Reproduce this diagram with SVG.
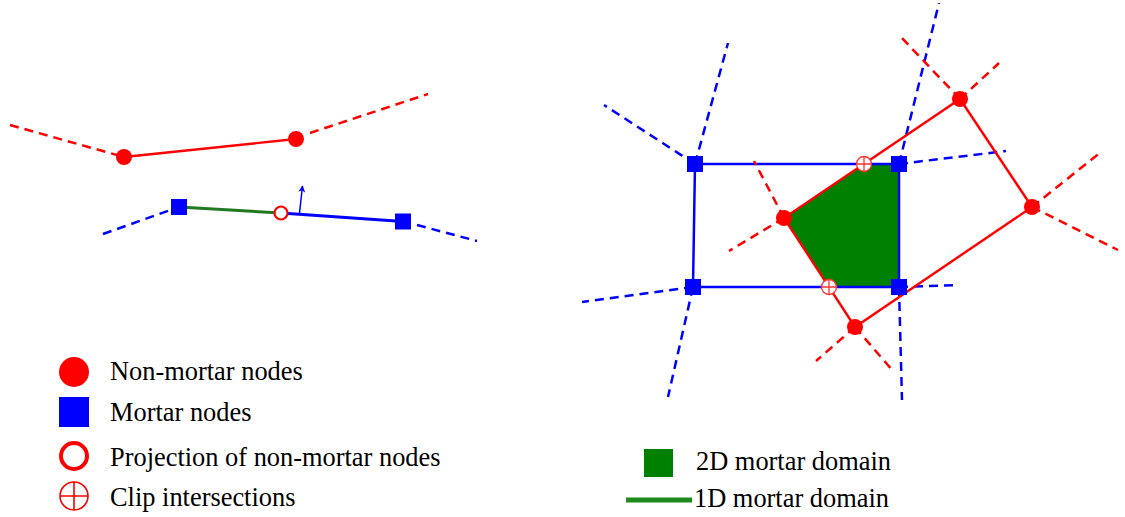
<svg xmlns="http://www.w3.org/2000/svg" width="1125" height="517" viewBox="0 0 1125 517">
<style>
.rd{stroke:#ff0000;stroke-width:2.5;stroke-dasharray:9 6;fill:none}
.bd{stroke:#0000ff;stroke-width:2.5;stroke-dasharray:9 6;fill:none}
.rs{stroke:#ff0000;stroke-width:2.4;fill:none}
.bs{stroke:#0000ff;stroke-width:2.5;fill:none}
.nm{fill:#ff0000}
.mn{fill:#0000ff}
.clip circle{fill:#ffffff;stroke:#ff3030;stroke-width:1.3}
.clip path{stroke:#ff3030;stroke-width:1.3;fill:none}
.lbl{font-family:"Liberation Serif","Times New Roman",serif;font-size:26.4px;fill:#000}
</style>
<defs>
<marker id="arr" viewBox="0 0 10 10" refX="9" refY="5" markerWidth="7" markerHeight="7" orient="auto" markerUnits="userSpaceOnUse">
<path d="M0,0 L10,5 L0,10 L3,5 Z" fill="#0000ff"/>
</marker>
</defs>
<rect width="1125" height="517" fill="#ffffff"/>

<g id="domain2d">
<polygon points="784,218 864,164 899,164 899,287 829,287" fill="#008000"/>
</g>

<g id="connectors">
<!-- left: non-mortar -->
<line class="rd" x1="10" y1="125" x2="124" y2="157"/>
<line class="rs" x1="124" y1="157" x2="296" y2="139" stroke-width="2.8"/>
<line class="rd" x1="310" y1="133" x2="428" y2="94"/>
<!-- left: mortar -->
<line class="bd" x1="103" y1="234" x2="179" y2="207"/>
<line x1="179" y1="207" x2="281" y2="213" stroke="#1f7a1f" stroke-width="3"/>
<line x1="281" y1="213" x2="403" y2="221.5" stroke="#0000ff" stroke-width="2.8"/>
<line class="bd" x1="417" y1="225" x2="477" y2="241"/>
<line x1="299.5" y1="213" x2="302.5" y2="186" stroke="#0000ff" stroke-width="1.5" marker-end="url(#arr)"/>

<!-- right: mortar dashed -->
<line class="bd" x1="695" y1="164" x2="728" y2="43"/>
<line class="bd" x1="695" y1="164" x2="604" y2="105"/>
<line class="bd" x1="693" y1="287" x2="582" y2="302"/>
<line class="bd" x1="693" y1="287" x2="668" y2="397"/>
<line class="bd" x1="899" y1="164" x2="939" y2="3"/>
<line class="bd" x1="899" y1="164" x2="1006" y2="151"/>
<line class="bd" x1="899" y1="287" x2="959" y2="285"/>
<line class="bd" x1="899" y1="287" x2="902" y2="400"/>
<!-- right: mortar rect -->
<polygon class="bs" points="695,164 899,164 899,287 693,287"/>
<!-- right: non-mortar dashed -->
<line class="rd" x1="960" y1="99" x2="899" y2="35"/>
<line class="rd" x1="960" y1="99" x2="999" y2="63"/>
<line class="rd" x1="1032" y1="207" x2="1101" y2="152"/>
<line class="rd" x1="1032" y1="207" x2="1118" y2="250"/>
<line class="rd" x1="855" y1="327" x2="816" y2="361"/>
<line class="rd" x1="855" y1="327" x2="893" y2="371"/>
<line class="rd" x1="784" y1="218" x2="754" y2="161"/>
<line class="rd" x1="784" y1="218" x2="729" y2="251"/>
<!-- right: non-mortar polygon -->
<polygon class="rs" points="960,99 1032,207 855,327 784,218"/>
</g>

<g id="nonmortar-nodes">
<circle class="nm" cx="124" cy="157" r="8"/>
<circle class="nm" cx="296" cy="139" r="8"/>
<circle class="nm" cx="960" cy="99" r="8"/>
<circle class="nm" cx="1032" cy="207" r="8"/>
<circle class="nm" cx="855" cy="327" r="8"/>
<circle class="nm" cx="784" cy="218" r="8"/>
</g>

<g id="mortar-nodes">
<rect class="mn" x="171" y="199" width="16" height="16"/>
<rect class="mn" x="395" y="213.5" width="16" height="16"/>
<rect class="mn" x="687" y="156" width="16" height="16"/>
<rect class="mn" x="891" y="156" width="16" height="16"/>
<rect class="mn" x="685" y="279" width="16" height="16"/>
<rect class="mn" x="891" y="279" width="16" height="16"/>
</g>

<g id="projection-node">
<circle cx="281" cy="213" r="6.5" fill="#ffffff" stroke="#ff0000" stroke-width="2.2"/>
</g>

<g id="clip-top" class="clip">
<circle cx="864" cy="164" r="7.5"/>
<path d="M856.5,164 H871.5 M864,156.5 V171.5"/>
</g>
<g id="clip-bottom" class="clip">
<circle cx="829" cy="287" r="7.5"/>
<path d="M821.5,287 H836.5 M829,279.5 V294.5"/>
</g>

<g id="legend">
<circle cx="74" cy="372" r="15" fill="#ff0000"/>
<text class="lbl" x="110" y="380">Non-mortar nodes</text>
<rect x="59" y="397" width="30" height="30" fill="#0000ff"/>
<text class="lbl" x="110" y="421">Mortar nodes</text>
<circle cx="74" cy="456" r="13" fill="#ffffff" stroke="#ff0000" stroke-width="4"/>
<text class="lbl" x="110" y="466">Projection of non-mortar nodes</text>
<g>
<circle cx="74" cy="496" r="14" fill="#ffffff" stroke="#ff0000" stroke-width="1.6"/>
<path d="M60,496 H88 M74,482 V510" stroke="#ff0000" stroke-width="1.6"/>
</g>
<text class="lbl" x="110" y="506">Clip intersections</text>
<rect x="644" y="449" width="29" height="28" fill="#008000"/>
<text class="lbl" x="696" y="470">2D mortar domain</text>
<line x1="626" y1="500" x2="692" y2="500" stroke="#1f8a1f" stroke-width="5"/>
<text class="lbl" x="694" y="507">1D mortar domain</text>
</g>
</svg>
